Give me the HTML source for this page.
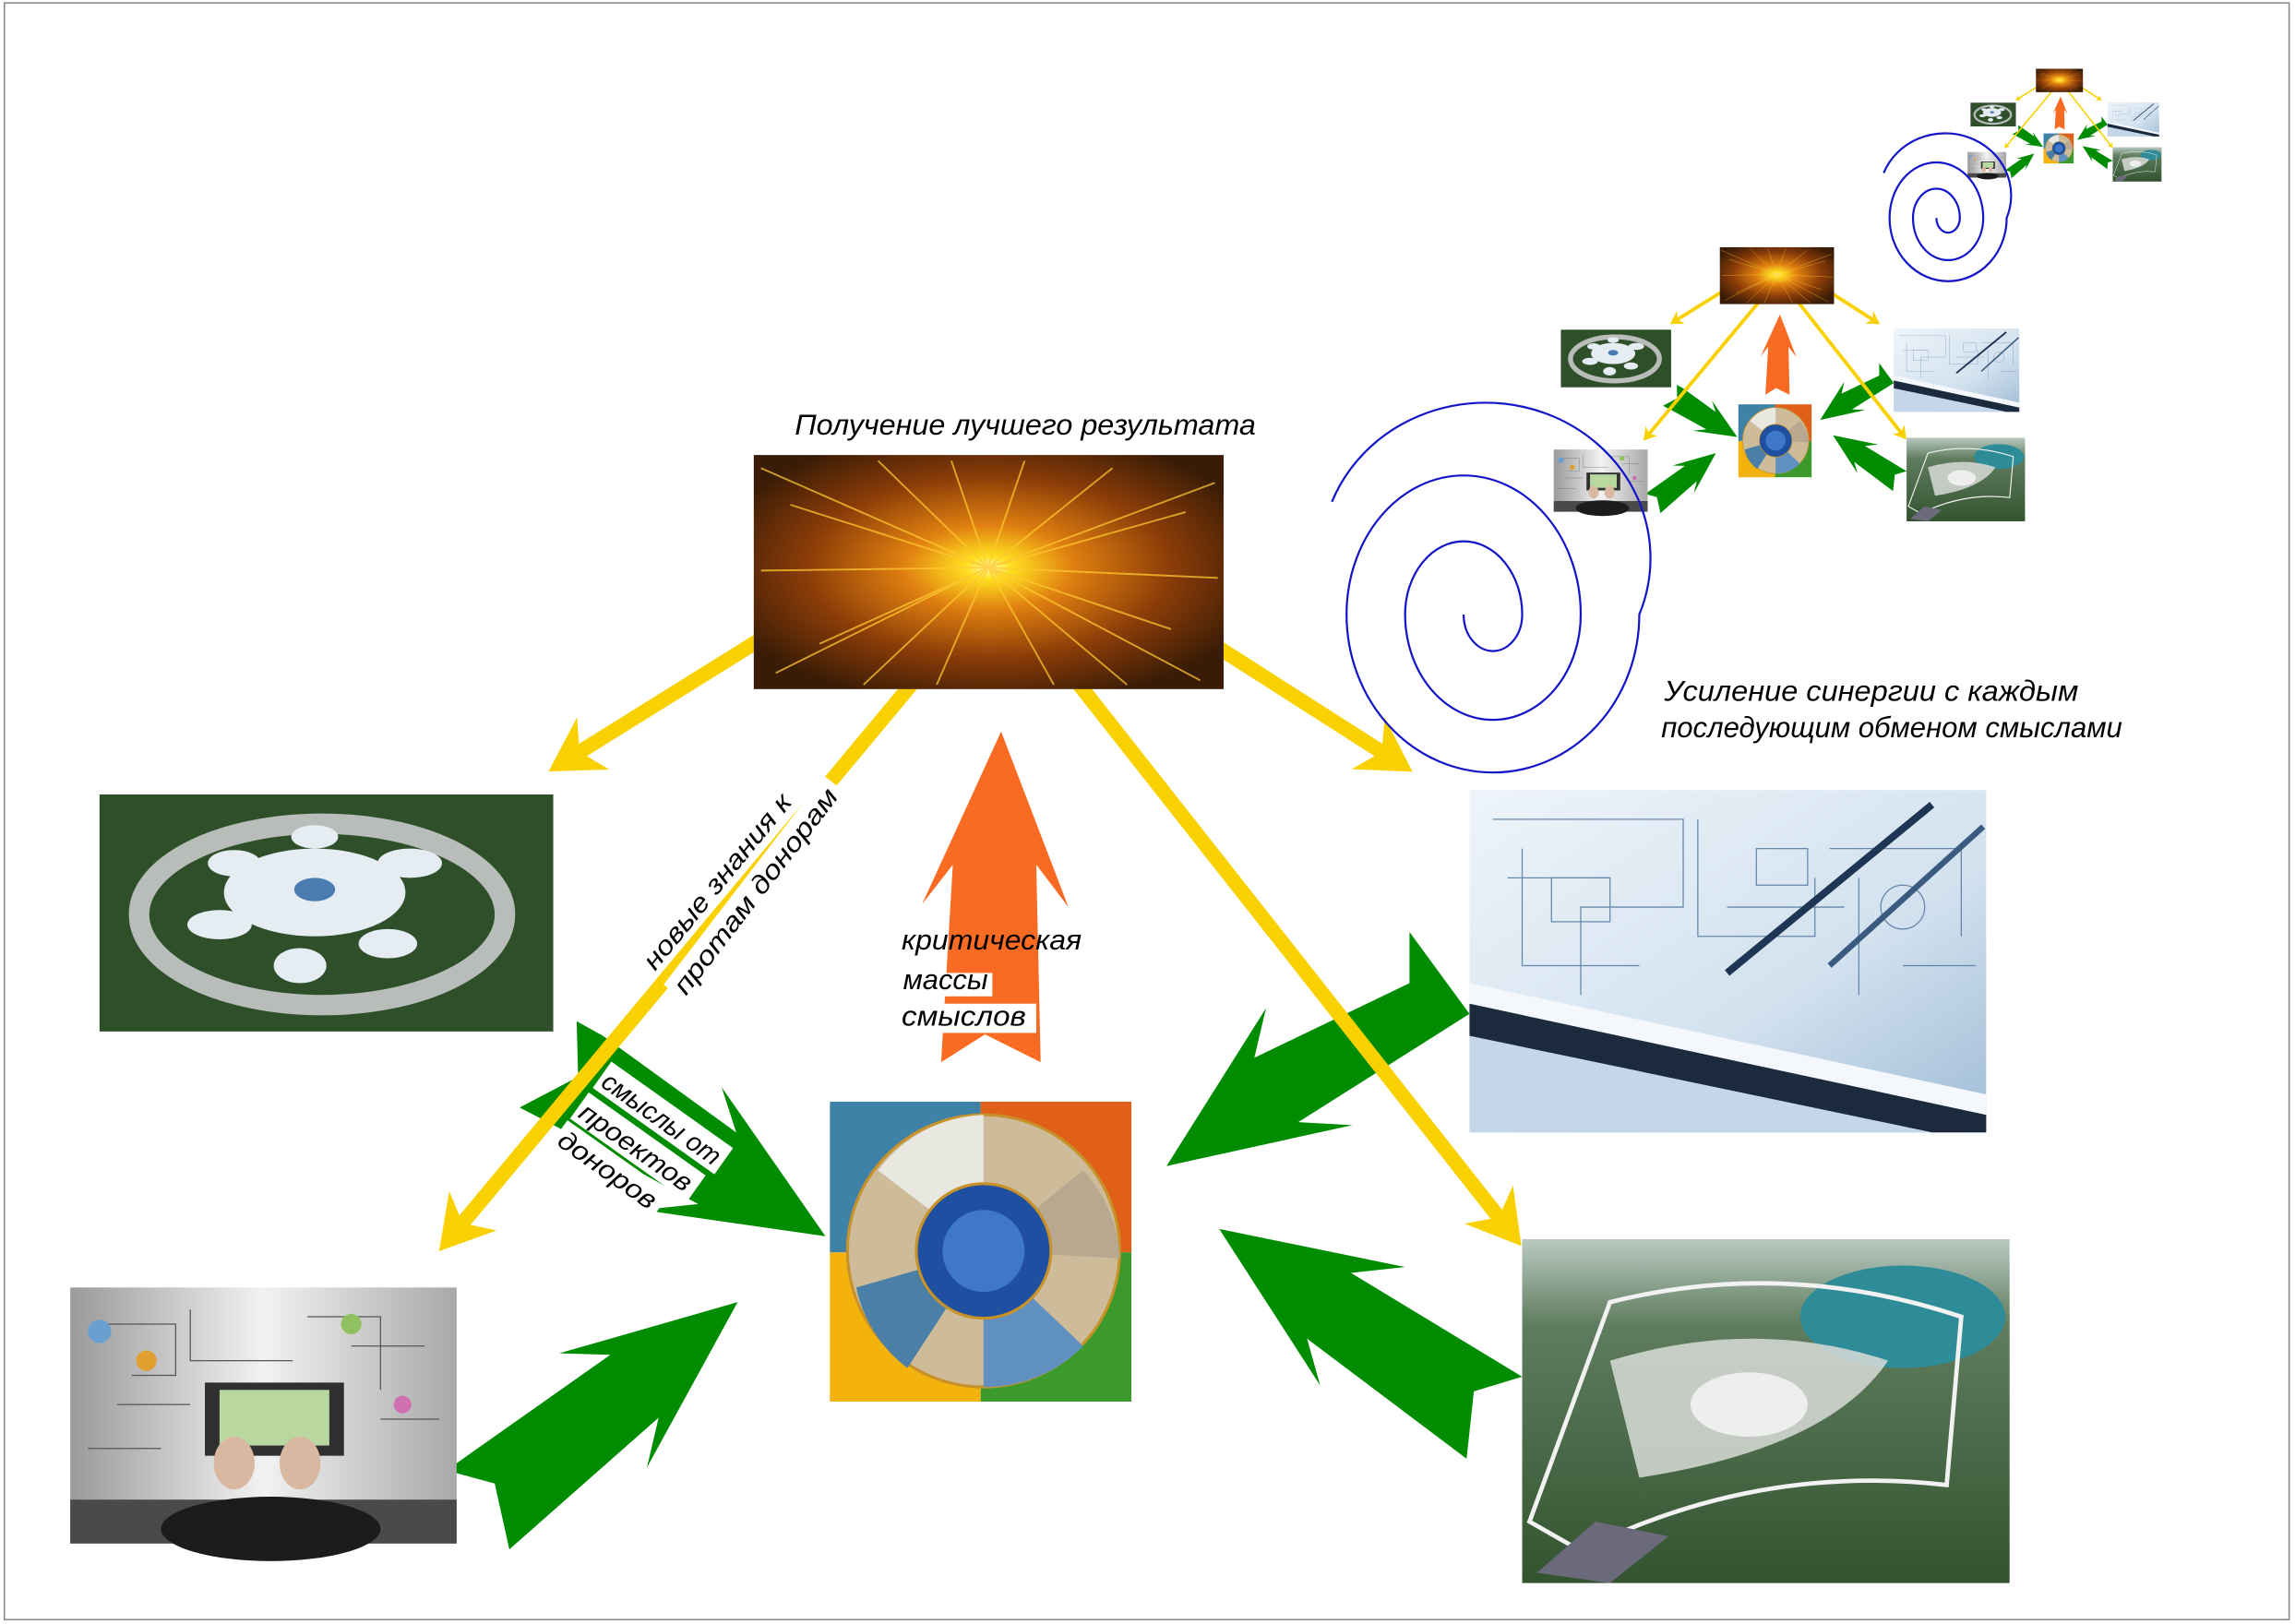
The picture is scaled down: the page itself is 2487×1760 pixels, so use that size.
<!DOCTYPE html>
<html><head><meta charset="utf-8">
<style>
html,body{margin:0;padding:0;background:#fff;}
svg{display:block;}
text{font-family:"Liberation Sans","DejaVu Sans",sans-serif;font-style:italic;fill:#000;}
</style></head>
<body>
<svg width="2487" height="1760" viewBox="0 0 1568 1110" preserveAspectRatio="none" xmlns="http://www.w3.org/2000/svg">
<defs>
  <marker id="ah" viewBox="-1 -2.2 4.2 4.4" refX="0.5" refY="0" markerWidth="4.2" markerHeight="4.4" orient="auto" markerUnits="strokeWidth">
    <path d="M3,0 L-0.6,-2.1 L0.5,0 L-0.6,2.1 Z" fill="#f9d100"/>
  </marker>
  <radialGradient id="exp" cx="0.5" cy="0.48" r="0.6">
    <stop offset="0" stop-color="#fffbc0"/>
    <stop offset="0.08" stop-color="#ffe020"/>
    <stop offset="0.3" stop-color="#e08010"/>
    <stop offset="0.65" stop-color="#8a3c08"/>
    <stop offset="1" stop-color="#3a1c06"/>
  </radialGradient>
  <linearGradient id="lap" x1="0" y1="0" x2="1" y2="0">
    <stop offset="0" stop-color="#9a9a9a"/>
    <stop offset="0.5" stop-color="#f2f2f2"/>
    <stop offset="1" stop-color="#a8a8a8"/>
  </linearGradient>
  <linearGradient id="bp" x1="0" y1="0" x2="1" y2="1">
    <stop offset="0" stop-color="#eef4fa"/>
    <stop offset="0.6" stop-color="#d3e2ef"/>
    <stop offset="1" stop-color="#9fbcd6"/>
  </linearGradient>
  <linearGradient id="aer" x1="0" y1="0" x2="0" y2="1">
    <stop offset="0" stop-color="#b9c9c2"/>
    <stop offset="0.25" stop-color="#5f7d5e"/>
    <stop offset="1" stop-color="#33532f"/>
  </linearGradient>
  <g id="main">
    <polygon fill="#008c00" points="797,797 865,689 857,723 963,672 963,637 1004,693 887,767 924,769"/>
    <polygon fill="#008c00" points="833,840 960,866 923,870 1040,941 1007,951 1002,997 893,915 902,947"/>
    <polygon fill="#008c00" points="504,890 382,925 417,926 305,1005 338,1014 348,1059 450,969 442,1003"/>
    <polygon fill="#008c00" points="564,845 493,743 503,774 412,708 394,698 395,736 355,757 382,771 477,823 439,827"/>
    <polygon fill="#f96a22" points="684,500 730,620 708,591 711,726 673,707 643,726 651,591 630,618"/>
    <g stroke="#f9d100" stroke-width="10" fill="none" marker-end="url(#ah)">
      <line x1="518" y1="438" x2="396" y2="514"/>
      <line x1="625" y1="465" x2="316" y2="836"/>
      <line x1="735" y1="465" x2="1024" y2="832"/>
      <line x1="833" y1="443" x2="944" y2="514"/>
    </g>
    <rect x="515" y="311" width="321" height="160" fill="url(#exp)"/>
    <g stroke="#ffc830" stroke-width="1.2" opacity="0.75">
      <line x1="675" y1="388" x2="520" y2="320"/><line x1="675" y1="388" x2="830" y2="330"/>
      <line x1="675" y1="388" x2="530" y2="460"/><line x1="675" y1="388" x2="820" y2="465"/>
      <line x1="675" y1="388" x2="600" y2="315"/><line x1="675" y1="388" x2="760" y2="320"/>
      <line x1="675" y1="388" x2="520" y2="390"/><line x1="675" y1="388" x2="832" y2="395"/>
      <line x1="675" y1="388" x2="640" y2="468"/><line x1="675" y1="388" x2="720" y2="468"/>
      <line x1="675" y1="388" x2="540" y2="345"/><line x1="675" y1="388" x2="810" y2="350"/>
      <line x1="675" y1="388" x2="560" y2="440"/><line x1="675" y1="388" x2="800" y2="430"/>
      <line x1="675" y1="388" x2="650" y2="315"/><line x1="675" y1="388" x2="700" y2="315"/>
      <line x1="675" y1="388" x2="590" y2="468"/><line x1="675" y1="388" x2="770" y2="468"/>
    </g>
    <rect x="68" y="543" width="310" height="162" fill="#2f4f2b"/>
    <ellipse cx="220" cy="625" rx="125" ry="62" fill="none" stroke="#b9bdb9" stroke-width="14"/>
    <ellipse cx="215" cy="610" rx="62" ry="30" fill="#e6edf2"/>
    <g fill="#e6edf2">
      <ellipse cx="150" cy="632" rx="22" ry="10"/><ellipse cx="280" cy="590" rx="22" ry="10"/>
      <ellipse cx="205" cy="660" rx="18" ry="12"/><ellipse cx="265" cy="645" rx="20" ry="10"/>
      <ellipse cx="160" cy="590" rx="18" ry="9"/><ellipse cx="215" cy="572" rx="16" ry="8"/>
    </g>
    <ellipse cx="215" cy="608" rx="14" ry="8" fill="#4a7cb0"/>
    <rect x="48" y="880" width="264" height="175" fill="url(#lap)"/>
    <rect x="48" y="1025" width="264" height="30" fill="#4a4a4a"/>
    <g stroke="#555" stroke-width="0.8" fill="none">
      <path d="M70,905 H120 V940 H90 M130,895 V930 H200 M210,900 H260 V950 M240,920 H290 M80,960 H130 M260,970 H300 M60,990 H110"/>
    </g>
    <circle cx="68" cy="910" r="8" fill="#6aa0d0"/><circle cx="100" cy="930" r="7" fill="#e0a030"/>
    <circle cx="240" cy="905" r="7" fill="#90c060"/><circle cx="275" cy="960" r="6" fill="#d070b0"/>
    <rect x="140" y="945" width="95" height="50" fill="#303030"/>
    <rect x="150" y="950" width="75" height="38" fill="#b8d8a0"/>
    <ellipse cx="185" cy="1045" rx="75" ry="22" fill="#1c1c1c"/>
    <ellipse cx="160" cy="1000" rx="14" ry="18" fill="#d8b8a0"/><ellipse cx="205" cy="1000" rx="14" ry="18" fill="#d8b8a0"/>
    <rect x="567" y="753" width="103" height="103" fill="#3f82a8"/>
    <rect x="670" y="753" width="103" height="103" fill="#e0601a"/>
    <rect x="567" y="856" width="103" height="102" fill="#f3b20c"/>
    <rect x="670" y="856" width="103" height="102" fill="#3c9a2c"/>
    <circle cx="672" cy="855" r="93" fill="#cdbb9a" stroke="#c8922a" stroke-width="2"/>
    <path d="M672,855 L600,800 A93,93 0 0 1 672,762 Z" fill="#e8e8e0"/>
    <path d="M672,855 L740,800 A93,93 0 0 1 765,860 Z" fill="#b8a890"/>
    <path d="M672,855 L740,920 A93,93 0 0 1 672,948 Z" fill="#6090c0"/>
    <path d="M672,855 L585,880 A93,93 0 0 0 620,935 Z" fill="#4a80a8"/>
    <circle cx="672" cy="855" r="46" fill="#1f4fa0" stroke="#c8922a" stroke-width="2"/>
    <circle cx="672" cy="855" r="28" fill="#3f78c8"/>
    <rect x="1004" y="540" width="353" height="234" fill="url(#bp)"/>
    <g stroke="#4a6f98" stroke-width="0.8" fill="none" opacity="0.8">
      <path d="M1020,560 H1150 V620 H1080 V680 M1040,580 V660 H1120 M1160,560 V640 H1240 V600 M1250,580 H1340 V640 M1030,600 H1100 M1180,620 H1260 M1270,600 V680 M1300,660 H1350"/>
      <rect x="1060" y="600" width="40" height="30"/><rect x="1200" y="580" width="35" height="25"/>
      <circle cx="1300" cy="620" r="15"/>
    </g>
    <polygon points="1004,672 1357,748 1357,762 1004,686" fill="#f4f8fc"/>
    <polygon points="1004,686 1357,762 1357,774 1320,774 1004,708" fill="#1c2a3e"/>
    <polygon points="1004,708 1320,774 1004,774" fill="#c4d6e8"/>
    <line x1="1180" y1="665" x2="1320" y2="550" stroke="#1e3654" stroke-width="5"/>
    <line x1="1250" y1="660" x2="1355" y2="565" stroke="#3a5a80" stroke-width="4"/>
    <rect x="1040" y="847" width="333" height="235" fill="url(#aer)"/>
    <ellipse cx="1300" cy="900" rx="70" ry="35" fill="#2e8c98"/>
    <path d="M1045,1040 L1100,890 Q1220,860 1340,900 L1330,1015 Q1200,1000 1080,1060 Z" fill="none" stroke="#f2f2f2" stroke-width="3"/>
    <path d="M1100,930 Q1200,900 1290,930 Q1250,990 1120,1010 Z" fill="#d8dcd8" opacity="0.85"/>
    <path d="M1050,1075 L1090,1040 L1140,1050 L1100,1082 Z" fill="#6a6a7a"/>
    <ellipse cx="1195" cy="960" rx="40" ry="22" fill="#eeeeee"/>
  </g>
</defs>

<rect x="3" y="2" width="1561" height="1105" fill="#fff" stroke="#8a8a8a" stroke-width="1"/>

<use href="#main"/>
<use href="#main" transform="translate(1049.9,93.4) scale(0.243)"/>
<use href="#main" transform="translate(1339.5,15.9) scale(0.1)"/>

<path d="M1000,420 A20,25 0 0 0 1040,420 A40,50 0 0 0 960,420 A60,72 0 0 0 1080,420 A80,95 0 0 0 920,420 A100,108 0 0 0 1120,420 A106,100 0 0 0 910,343" fill="none" stroke="#1414c8" stroke-width="1.4"/>
<path d="M1000,420 A20,25 0 0 0 1040,420 A40,50 0 0 0 960,420 A60,72 0 0 0 1080,420 A80,95 0 0 0 920,420 A100,108 0 0 0 1120,420 A106,100 0 0 0 910,343" fill="none" stroke="#1414c8" stroke-width="3.5" transform="translate(923,-19) scale(0.4)"/>

<text x="543" y="297" font-size="20" textLength="315" lengthAdjust="spacingAndGlyphs">Получение лучшего результата</text>
<text x="1137" y="479" font-size="20" textLength="283" lengthAdjust="spacingAndGlyphs">Усиление синергии с каждым</text>
<text x="1135" y="504" font-size="20" textLength="315" lengthAdjust="spacingAndGlyphs">последующим обменом смыслами</text>

<rect x="618" y="665" width="60" height="16" fill="#fff"/>
<rect x="614" y="686" width="94" height="20" fill="#fff"/>
<text x="616" y="649" font-size="19" textLength="123" lengthAdjust="spacingAndGlyphs">критическая</text>
<text x="617" y="676" font-size="19" textLength="58" lengthAdjust="spacingAndGlyphs">массы</text>
<text x="616" y="701" font-size="19" textLength="85" lengthAdjust="spacingAndGlyphs">смыслов</text>

<g transform="translate(447.6,664) rotate(-50.8)">
  <text x="0" y="0" font-size="18" textLength="149" lengthAdjust="spacingAndGlyphs">новые знания к</text>
</g>
<g transform="translate(468.7,681) rotate(-52.5)">
  <rect x="-3" y="-17" width="180" height="22" fill="#fff"/>
  <text x="0" y="0" font-size="18" textLength="172" lengthAdjust="spacingAndGlyphs">протам донорам</text>
</g>

<g transform="translate(419,729) rotate(35.4)">
  <rect x="-3" y="-2" width="102" height="22" fill="#fff"/>
  <text x="0" y="16" font-size="18" textLength="95" lengthAdjust="spacingAndGlyphs">смыслы от</text>
</g>
<g transform="translate(403.5,750) rotate(35.4)">
  <rect x="-3" y="-2" width="98" height="22" fill="#fff"/>
  <text x="0" y="16" font-size="18" textLength="90" lengthAdjust="spacingAndGlyphs">проектов</text>
</g>
<g transform="translate(389,769) rotate(35.4)">
  <rect x="-3" y="-2" width="86" height="22" fill="#fff"/>
  <text x="0" y="16" font-size="18" textLength="78" lengthAdjust="spacingAndGlyphs">доноров</text>
</g>
</svg>
</body></html>
